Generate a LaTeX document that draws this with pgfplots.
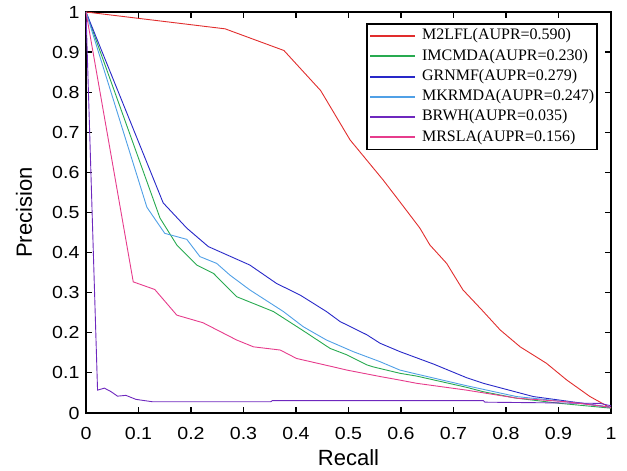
\documentclass[border=0pt]{standalone}
\usepackage{fontspec}
\setmainfont{Liberation Sans}
\newfontfamily\tickfont{Liberation Sans}[FakeStretch=1.12]
\newfontfamily\timesfont{Liberation Serif}
\usepackage{pgfplots}
\pgfplotsset{compat=1.18}
\usetikzlibrary{calc}
\definecolor{cRed}{RGB}{225,45,45}
\definecolor{cGreen}{RGB}{40,170,80}
\definecolor{cBlue}{RGB}{40,40,200}
\definecolor{cLBlue}{RGB}{80,160,230}
\definecolor{cPurple}{RGB}{110,40,190}
\definecolor{cPink}{RGB}{230,60,140}
\begin{document}
\begin{tikzpicture}
\begin{axis}[
 scale only axis, width=525pt, height=401pt,
 xmin=0, xmax=1, ymin=0, ymax=1,
 xtick={0,0.1,0.2,0.3,0.4,0.5,0.6,0.7,0.8,0.9,1},
 xticklabels={0,0.1,0.2,0.3,0.4,0.5,0.6,0.7,0.8,0.9,1},
 ytick={0,0.1,0.2,0.3,0.4,0.5,0.6,0.7,0.8,0.9,1},
 yticklabels={0,0.1,0.2,0.3,0.4,0.5,0.6,0.7,0.8,0.9,1},
 tick align=inside, major tick length=6pt,
 every tick/.style={black, line width=1.2pt},
 axis line style={line width=1.6pt},
 tick label style={font=\tickfont\fontsize{17.5}{20}\selectfont},
 xticklabel style={anchor=base, yshift=-27pt},
 yticklabel style={xshift=-3pt},
 label style={font=\fontsize{22}{26}\selectfont},
 xlabel={Recall}, ylabel={Precision},
 xlabel style={at={(axis description cs:0.5,-0.1297)}, anchor=base},
 ylabel style={at={(axis description cs:-0.1029,0.5)}, anchor=base, rotate=0},
 legend style={at={(1,1)}, anchor=north east, xshift=-13pt, yshift=-11pt,
   draw=black, line width=1.6pt, inner sep=2pt,
   font=\timesfont\fontsize{16}{18}\selectfont,
   nodes={inner sep=1pt, text height=13pt, text depth=5.3pt},
   /tikz/every odd column/.append style={column sep=5pt}},
 legend cell align=left,
 legend image code/.code={\draw[#1, line width=2pt] (0pt,0pt) -- (45pt,0pt);},
 /pgf/number format/assume math mode=true,
]
\addplot[cRed, line width=0.9pt] coordinates {(0,1) (0.265,0.958) (0.377,0.904) (0.447,0.804) (0.503,0.681) (0.566,0.581) (0.60,0.523) (0.636,0.461) (0.655,0.419) (0.687,0.373) (0.718,0.307) (0.754,0.257) (0.789,0.207) (0.827,0.165) (0.877,0.124) (0.916,0.082) (0.96,0.041) (1.0,0.012)};
\addlegendentry{M2LFL(AUPR=0.590)}
\addplot[cGreen, line width=0.9pt] coordinates {(0,1) (0.141,0.486) (0.173,0.419) (0.211,0.369) (0.243,0.348) (0.287,0.29) (0.357,0.253) (0.414,0.205) (0.465,0.161) (0.497,0.145) (0.535,0.12) (0.547,0.115) (0.598,0.099) (0.63,0.092) (0.725,0.064) (0.757,0.053) (0.82,0.037) (0.903,0.024) (1.0,0.012)};
\addlegendentry{IMCMDA(AUPR=0.230)}
\addplot[cBlue, line width=0.9pt] coordinates {(0,1) (0.147,0.524) (0.192,0.461) (0.233,0.415) (0.312,0.369) (0.363,0.323) (0.408,0.294) (0.458,0.253) (0.484,0.228) (0.535,0.195) (0.56,0.174) (0.598,0.153) (0.662,0.122) (0.725,0.088) (0.757,0.074) (0.852,0.041) (0.903,0.032) (0.947,0.024) (1.0,0.014)};
\addlegendentry{GRNMF(AUPR=0.279)}
\addplot[cLBlue, line width=0.9pt] coordinates {(0,1) (0.116,0.513) (0.15,0.448) (0.192,0.433) (0.217,0.39) (0.249,0.373) (0.274,0.344) (0.312,0.307) (0.376,0.253) (0.414,0.215) (0.458,0.182) (0.509,0.153) (0.56,0.128) (0.598,0.107) (0.63,0.097) (0.725,0.068) (0.82,0.041) (0.916,0.028) (1.0,0.014)};
\addlegendentry{MKRMDA(AUPR=0.247)}
\addplot[cPurple, line width=0.9pt] coordinates {(0,1) (0.022,0.057) (0.035,0.062) (0.048,0.053) (0.06,0.042) (0.076,0.044) (0.095,0.034) (0.127,0.028) (0.352,0.028) (0.355,0.031) (0.757,0.031) (0.76,0.027) (0.979,0.024) (1.0,0.018)};
\addlegendentry{BRWH(AUPR=0.035)}
\addplot[cPink, line width=0.9pt] coordinates {(0,1) (0.09,0.327) (0.131,0.308) (0.173,0.244) (0.223,0.225) (0.287,0.182) (0.319,0.165) (0.37,0.157) (0.401,0.136) (0.471,0.115) (0.497,0.107) (0.56,0.091) (0.598,0.082) (0.63,0.074) (0.725,0.057) (0.82,0.037) (0.916,0.028) (1.0,0.014)};
\addlegendentry{MRSLA(AUPR=0.156)}
\end{axis}
\pgfresetboundingbox
\path[use as bounding box] ($(current axis.south west)+(-86pt,-58pt)$) rectangle ($(current axis.north east)+(16pt,12pt)$);
\end{tikzpicture}
\end{document}
